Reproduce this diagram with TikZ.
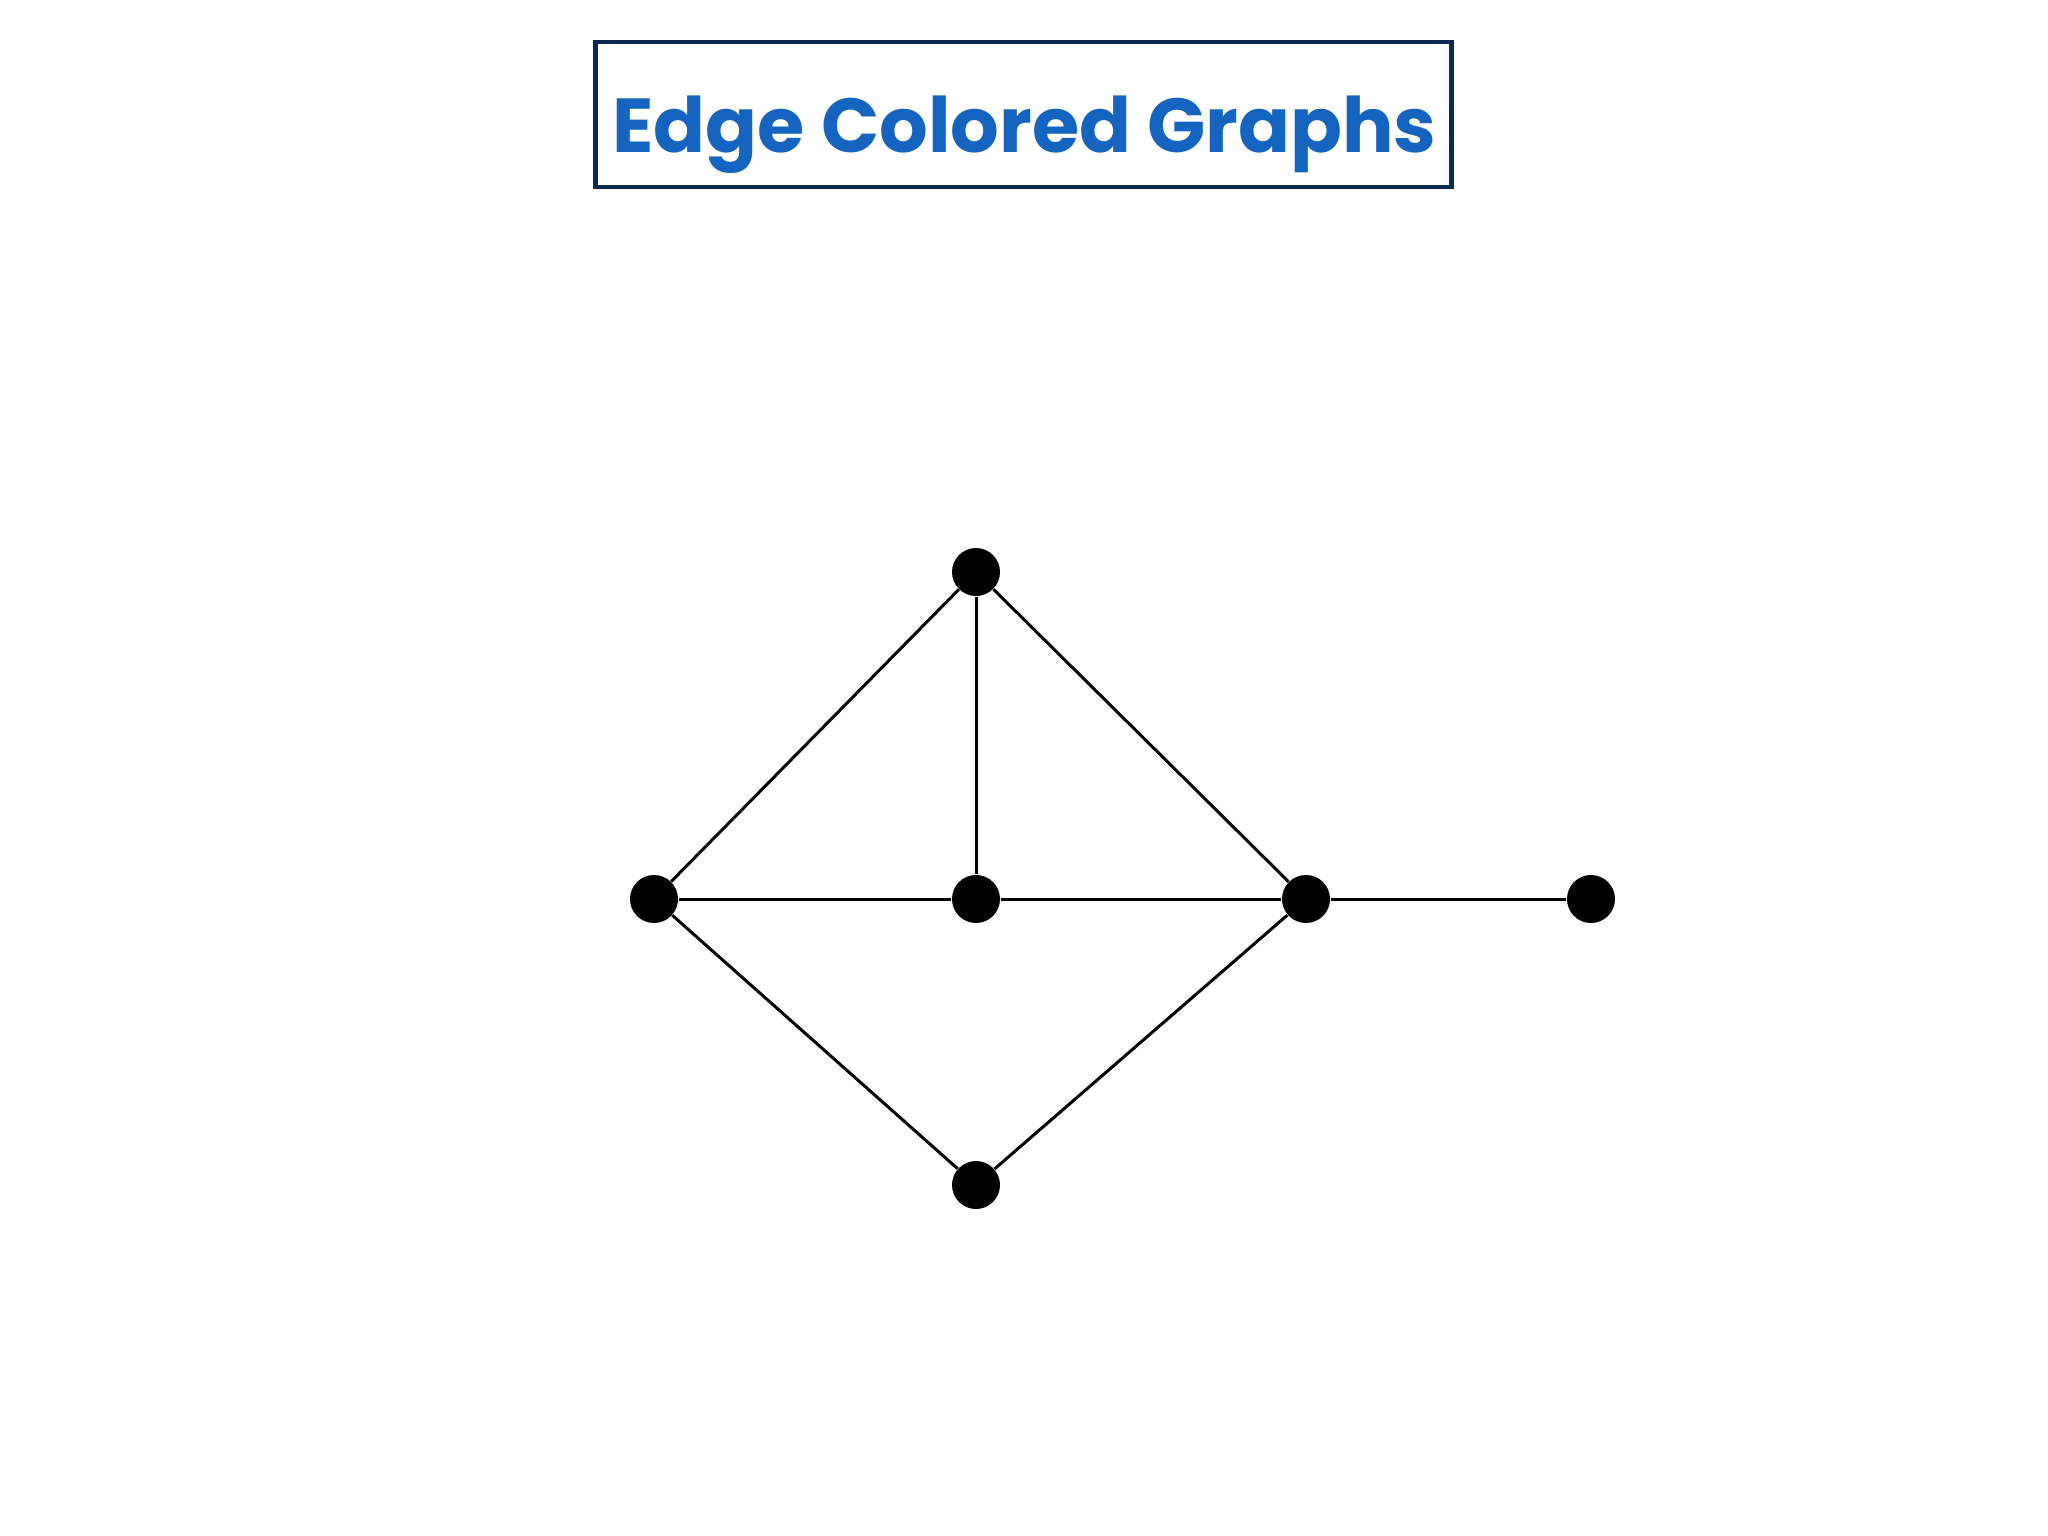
\documentclass[tikz,border=0pt]{standalone}
\usepackage{fontspec}
\newfontfamily\titlefont{Poppins}
\definecolor{boxnavy}{HTML}{0B2A55}
\definecolor{titleblue}{HTML}{1565C0}
\tikzset{
  vertex/.style={circle, fill=black, minimum size=0.6cm, inner sep=0pt},
  edge/.style={line width=0.0375cm, black},
  titlebox/.style={draw=boxnavy, line width=0.06cm, fill=white, minimum width=10.69cm, minimum height=1.81cm, inner sep=0pt}
}
\begin{document}
\begin{tikzpicture}[x=0.0125cm, y=-0.0125cm]
\useasboundingbox[fill=white] (0,0) rectangle (2048,1536);
\node[titlebox] (box) at (1023.5,114.5) {};
\node[text=titleblue, inner sep=0pt, anchor=base] (title) at (1024.5,152) {\resizebox{10.3cm}{!}{\titlefont\bfseries Edge Colored Graphs}};
\node[vertex] (t) at (976,572) {};
\node[vertex] (l) at (654,899) {};
\node[vertex] (c) at (976,899) {};
\node[vertex] (r) at (1306,899) {};
\node[vertex] (f) at (1591,899) {};
\node[vertex] (b) at (976,1185) {};
\draw[edge] (t) -- (l);
\draw[edge] (t) -- (c);
\draw[edge] (t) -- (r);
\draw[edge] (l) -- (c);
\draw[edge] (c) -- (r);
\draw[edge] (r) -- (f);
\draw[edge] (l) -- (b);
\draw[edge] (r) -- (b);
\end{tikzpicture}
\end{document}
